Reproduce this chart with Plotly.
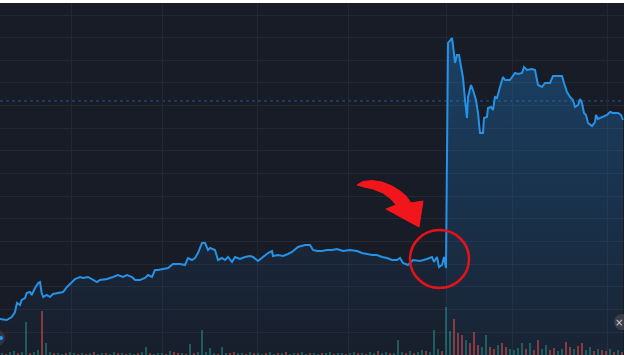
import plotly.graph_objects as go
import numpy as np

# ---- price series (time index, price in chart units) ----
t = [0, 6.7, 11.7, 15, 17, 20, 21.7, 25, 26.7, 30, 31.7, 35, 38.3, 40, 41.7, 43.3, 46.7, 50, 53, 58,
     63, 67, 72, 75, 80, 83, 88, 93, 97, 100, 107, 113, 118, 123, 127, 132, 135, 140, 145, 148,
     152, 155, 158, 163, 168, 173, 180, 185, 188, 192, 195, 198, 202, 205, 208, 210, 215, 218, 222, 225,
     228, 232, 235, 240, 245, 250, 253, 258, 263, 268, 272, 273, 278, 283, 288, 292, 298, 305, 310, 313,
     317, 322, 327, 332, 337, 343, 350, 357, 362, 367, 372, 377, 382, 387, 392, 397, 400, 403, 408, 413,
     420, 427, 432, 434, 437, 439, 442, 444, 446, 448, 452, 453, 455, 457, 459, 462, 463, 465, 467, 468,
     471, 473, 476, 478, 480, 483, 484, 487, 488, 491, 493, 495, 497, 500, 503, 505, 510, 515, 518, 522,
     524, 527, 532, 535, 538, 542, 545, 550, 553, 557, 562, 564, 567, 570, 573, 575, 578, 580, 582, 584,
     586, 588, 592, 595, 596, 598, 603, 607, 610, 613, 618, 621, 623]
price = [36, 35, 38, 43, 52, 50, 55, 57, 62, 63, 60, 67, 72, 73, 62, 58, 60, 58, 61, 62,
         63, 68, 73, 76, 78, 77, 78, 75, 73, 75, 76, 78, 80, 78, 80, 78, 75, 75, 77, 80,
         78, 85, 85, 86, 87, 91, 91, 90, 97, 95, 97, 102, 112, 112, 105, 107, 105, 95, 97, 95,
         98, 93, 98, 96, 98, 99, 98, 94, 98, 102, 104, 99, 100, 99, 101, 103, 108, 110, 110, 105,
         104, 104, 105, 105, 106, 104, 105, 104, 102, 101, 100, 100, 98, 97, 95, 95, 97, 92, 90, 95,
         94, 96, 98, 93, 98, 88, 90, 98, 87, 312, 317, 310, 292, 300, 300, 283, 277, 255, 237, 258,
         270, 265, 255, 242, 222, 222, 237, 238, 247, 248, 245, 258, 257, 268, 278, 275, 275, 282, 281, 282,
         288, 285, 286, 285, 270, 268, 272, 272, 279, 279, 279, 272, 263, 258, 255, 248, 250, 256, 252, 242,
         240, 232, 229, 233, 240, 236, 238, 240, 243, 242, 242, 240, 235]
spike_idx = 108  # index of last pre-jump sample

# ---- volume (one bar every 4 time units from t=2) ----
vol = [2, 1, 3, 4, 2, 3, 33, 2, 3, 5,
       44, 12, 3, 2, 2, 1, 2, 3, 2, 1,
       2, 1, 2, 3, 1, 2, 2, 1, 3, 2,
       2, 1, 2, 1, 2, 3, 8, 2, 1, 2,
       2, 1, 4, 3, 2, 2, 1, 11, 2, 3,
       25, 3, 7, 2, 1, 8, 2, 2, 3, 2,
       2, 1, 3, 2, 2, 1, 2, 3, 1, 2,
       2, 3, 1, 2, 2, 3, 1, 2, 2, 1,
       2, 2, 3, 1, 2, 2, 1, 2, 3, 2,
       2, 1, 3, 2, 4, 2, 3, 2, 2, 15,
       3, 2, 4, 2, 3, 5, 4, 3, 25, 6,
       4,
       48, 24, 36, 22, 20, 15, 12, 23, 10, 8,
       20, 8, 6, 10, 12, 8, 6, 5, 7, 12,
       6, 12, 5, 15, 6, 10, 5, 7, 4, 6,
       13, 8, 6, 9, 12, 5, 8, 4, 6, 5,
       4, 6, 3, 5, 3]
pre_dir = list("uduuduuduu" "duuduuduud" "ududuuduud" "uduuduuduu" "ududdududu"
               "uuuuduuddu" "ududuuduud" "uduuduuduu" "duuduuduud" "uduuduuduu"
               "ududuuduuu" "d")
post_dir = list("uudddudddu" "uddudduuuu" "dudduudduu" "ddudduudud" "dudud")
vol_dir = pre_dir + post_dir
vol_t = 2 + 4 * np.arange(len(vol))
vol_col = ["rgba(38,166,154,0.45)" if c == "u" else "rgba(239,83,80,0.5)" for c in vol_dir]

x_ticks = [71, 162, 257, 348, 446, 512, 607]

BG = "#181c27"
GRID = "#232734"
LINE = "#2592e8"

fig = go.Figure()
fig.add_trace(go.Bar(x=vol_t, y=vol, width=1.6, marker=dict(color=vol_col, line=dict(width=0)),
                     yaxis="y2", hoverinfo="skip"))
# fills (left part fainter, right part stronger)
fig.add_trace(go.Scatter(x=t[:spike_idx + 1], y=price[:spike_idx + 1], mode="none", fill="tozeroy",
                         fillgradient=dict(type="vertical",
                                           colorscale=[[0, "rgba(33,150,243,0.02)"], [1, "rgba(33,150,243,0.09)"]])))
fig.add_trace(go.Scatter(x=t[spike_idx:], y=price[spike_idx:], mode="none", fill="tozeroy",
                         fillgradient=dict(type="vertical",
                                           colorscale=[[0, "rgba(33,150,243,0.06)"], [1, "rgba(33,150,243,0.30)"]])))
fig.add_trace(go.Scatter(x=t, y=price, mode="lines", line=dict(color=LINE, width=2)))

shapes = []
# dotted reference line
shapes.append(dict(type="line", xref="paper", x0=0, x1=1, yref="y", y0=254, y1=254,
                   line=dict(color="rgba(33,120,210,0.65)", width=1, dash="dot"), layer="below"))
# red circle
shapes.append(dict(type="circle", xref="x", yref="y", x0=410, x1=469, y0=67, y1=125,
                   line=dict(color="#e5121a", width=2.5)))
# red curved arrow
arrow_pts = [(357, 170), (363, 173.5), (372, 174.5), (382, 173), (392, 169), (400, 164), (406, 159),
             (411, 152), (423, 154), (419, 128), (386, 146), (396, 150), (391, 156), (383, 162),
             (373, 166), (364, 168)]
path = "M " + " L ".join(f"{a},{b}" for a, b in arrow_pts) + " Z"
shapes.append(dict(type="path", xref="x", yref="y", path=path, fillcolor="#f2161c",
                   line=dict(color="#f2161c", width=1)))
# corner buttons
shapes.append(dict(type="circle", xref="x", yref="y", x0=-11, x1=5, y0=9, y1=25,
                   fillcolor="#30343f", line=dict(width=0)))
shapes.append(dict(type="circle", xref="x", yref="y", x0=-1, x1=3, y0=15, y1=19,
                   fillcolor="#2196f3", line=dict(width=0)))
shapes.append(dict(type="circle", xref="x", yref="y", x0=614, x1=630, y0=25, y1=41,
                   fillcolor="#3a3e4a", line=dict(width=0)))

fig.update_layout(
    width=625, height=355,
    margin=dict(l=0, r=1, t=3, b=0, pad=0),
    paper_bgcolor="white", plot_bgcolor=BG,
    showlegend=False, bargap=0,
    shapes=shapes,
    annotations=[dict(x=619, y=33, xref="x", yref="y", text="×", showarrow=False,
                      font=dict(color="#c8cbd2", size=10, family="DejaVu Sans"))],
    xaxis=dict(range=[0, 624], tickvals=x_ticks, showticklabels=False, showgrid=True,
               gridcolor=GRID, gridwidth=1, zeroline=False, showline=False, ticks=""),
    yaxis=dict(range=[0, 352], tick0=23, dtick=22.64, showticklabels=False, showgrid=True,
               gridcolor=GRID, gridwidth=1, zeroline=False, showline=False, ticks=""),
    yaxis2=dict(range=[0, 352], overlaying="y", visible=False),
)

fig.write_html("out.html")
